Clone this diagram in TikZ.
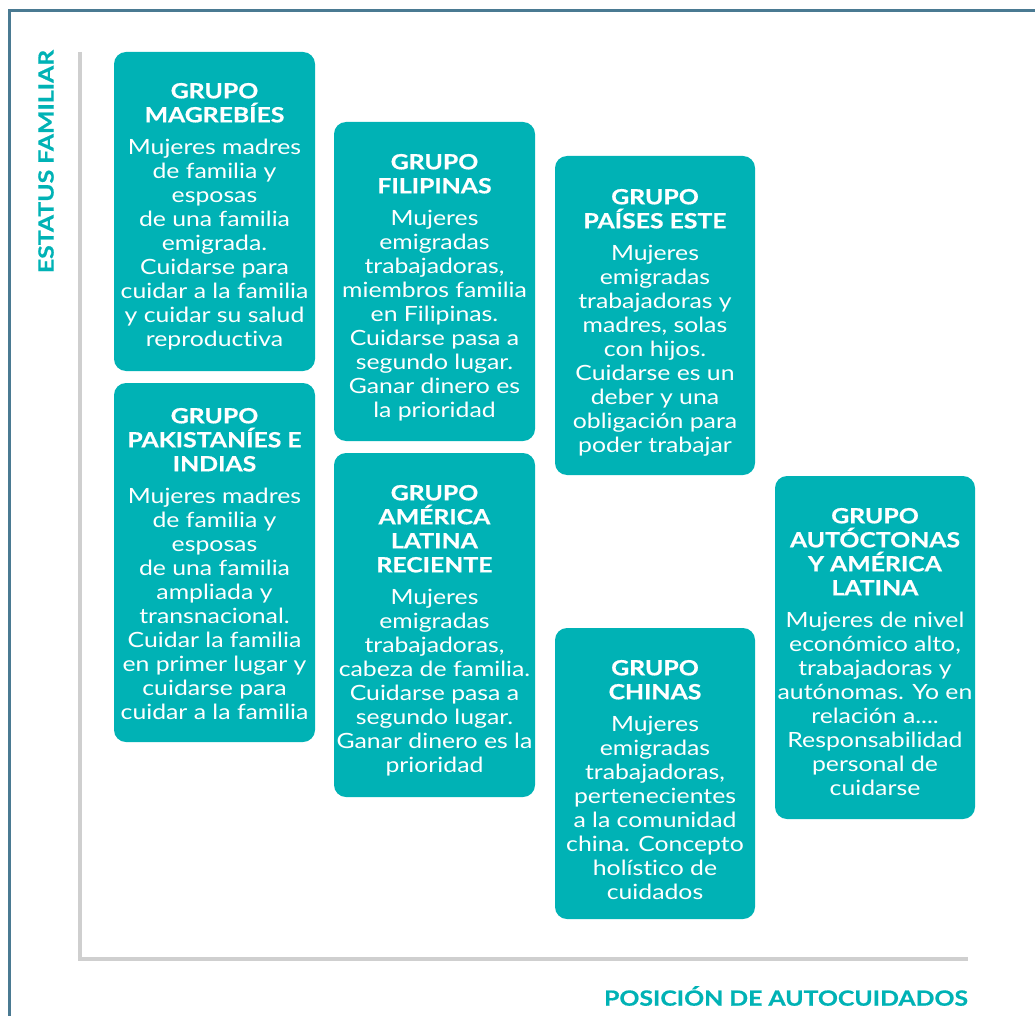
\documentclass[tikz,border=0pt]{standalone}
\usepackage{fontspec}
\setmainfont[FakeStretch=1.18, Ligatures=NoCommon, BoldFeatures={FakeBold=0.6}]{Lato}
\definecolor{tealc}{HTML}{00B2B5}
\definecolor{framec}{HTML}{4A7A92}
\definecolor{axisgray}{HTML}{CFCFCF}
\begin{document}
\begin{tikzpicture}[x=1pt,y=-1pt,
  box/.style={fill=tealc, rounded corners=12pt, draw=none, inner sep=0pt},
  txt/.style={text=white, align=center, anchor=north, inner sep=0pt, font=\fontsize{21}{24}\selectfont},
  axisline/.style={draw=axisgray, line width=4pt},
  frameline/.style={draw=framec, line width=3pt},
  axlabel/.style={text=tealc, inner sep=0pt, font=\bfseries\fontsize{21}{24}\selectfont}]
\useasboundingbox (0,0) rectangle (1035,1016);
% frame
\coordinate (fBL) at (9.5,1016);
\coordinate (fTL) at (9.5,10.5);
\coordinate (fTR) at (1035,10.5);
\draw[frameline] (fBL) -- (fTL) -- (fTR);
% axes
\coordinate (aT) at (80,52);
\coordinate (aO) at (80,959);
\coordinate (aR) at (968,959);
\draw[axisline] (aT) -- (aO) -- (aR);
\node[axlabel, rotate=90] (ylab) at (46,161.5) {ESTATUS FAMILIAR};
\node[axlabel] (xlab) at (786,996) {POSICIÓN DE AUTOCUIDADOS};
% boxes
\node[box, minimum width=201pt, minimum height=319pt] (mag) at (214.5,211.5) {};
\node[box, minimum width=201pt, minimum height=359pt] (pak) at (214.5,562.5) {};
\node[box, minimum width=201pt, minimum height=319pt] (fil) at (434.5,281.5) {};
\node[box, minimum width=201pt, minimum height=344pt] (aml) at (434.5,625) {};
\node[box, minimum width=200pt, minimum height=319pt] (pai) at (655,315.5) {};
\node[box, minimum width=200pt, minimum height=291pt] (chi) at (655,773.5) {};
\node[box, minimum width=200pt, minimum height=343pt] (aut) at (875,647.5) {};
% texts
\node[txt] (magT) at ([yshift=-31pt]mag.north) {\textbf{GRUPO}\\\textbf{MAGREBÍES}\\[8pt]Mujeres madres\\de familia y\\esposas\\de una familia\\emigrada.\\Cuidarse para\\cuidar a la familia\\y cuidar su salud\\reproductiva};
\node[txt] (pakT) at ([yshift=-25pt]pak.north) {\textbf{GRUPO}\\\textbf{PAKISTANÍES E}\\\textbf{INDIAS}\\[8pt]Mujeres madres\\de familia y\\esposas\\de una familia\\ampliada y\\transnacional.\\Cuidar la familia\\en primer lugar y\\cuidarse para\\cuidar a la familia};
\node[txt] (filT) at ([yshift=-32pt]fil.north) {\textbf{GRUPO}\\\textbf{FILIPINAS}\\[8pt]Mujeres\\emigradas\\trabajadoras,\\miembros familia\\en Filipinas.\\Cuidarse pasa a\\segundo lugar.\\Ganar dinero es\\la prioridad};
\node[txt] (amlT) at ([yshift=-32pt]aml.north) {\textbf{GRUPO}\\\textbf{AMÉRICA}\\\textbf{LATINA}\\\textbf{RECIENTE}\\[8pt]Mujeres\\emigradas\\trabajadoras,\\cabeza de familia.\\Cuidarse pasa a\\segundo lugar.\\Ganar dinero es la\\prioridad};
\node[txt] (paiT) at ([yshift=-33pt]pai.north) {\textbf{GRUPO}\\\textbf{PAÍSES ESTE}\\[8pt]Mujeres\\emigradas\\trabajadoras y\\madres, solas\\con hijos.\\Cuidarse es un\\deber y una\\obligación para\\poder trabajar};
\node[txt] (chiT) at ([yshift=-32pt]chi.north) {\textbf{GRUPO}\\\textbf{CHINAS}\\[8pt]Mujeres\\emigradas\\trabajadoras,\\pertenecientes\\a la comunidad\\china. Concepto\\holístico de\\cuidados};
\node[txt] (autT) at ([yshift=-32pt]aut.north) {\textbf{GRUPO}\\\textbf{AUTÓCTONAS}\\\textbf{Y AMÉRICA}\\\textbf{LATINA}\\[8pt]Mujeres de nivel\\económico alto,\\trabajadoras y\\autónomas. Yo en\\relación a....\\Responsabilidad\\personal de\\cuidarse};
\end{tikzpicture}
\end{document}
